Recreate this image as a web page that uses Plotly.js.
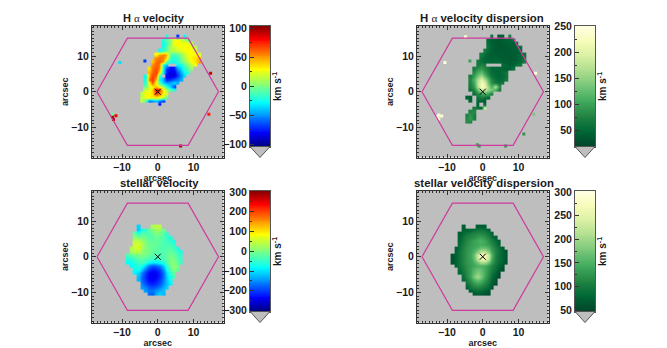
<!DOCTYPE html>
<html>
<head>
<meta charset="utf-8">
<script src="https://cdn.plot.ly/plotly-3.0.1.min.js"></script>
<style>html,body{margin:0;padding:0;background:#fff}</style>
</head>
<body>
<div id="chart" style="width:667px;height:348px"></div>
<script>
const W = 667;
const H = 348;
const n = null;

const hexX = [-17, -8.5, 8.5, 17, 8.5, -8.5, -17];
const hexY = [0, 15, 15, 0, -15, -15, 0];
const centerX = [0];
const centerY = [0];

const haX = [-5.5, -4.5, -3.5, -2.5, -1.5, -0.5, 0.5, 1.5, 2.5, 3.5, 4.5, 5.5, 6.5, 7.5, 8.5, 9.5, 10.5, 11.5, 12.5];
const haVelY = [15.5, 14.5, 13.5, 12.5, 11.5, 10.5, 9.5, 8.5, 7.5, 6.5, 5.5, 4.5, 3.5, 2.5, 1.5, 0.5, -0.5, -1.5, -2.5, -3.5];
const haDispY = [15.5, 14.5, 13.5, 12.5, 11.5, 10.5, 9.5, 8.5, 7.5, 6.5, 5.5, 4.5, 3.5, 2.5, 1.5, 0.5, -0.5, -1.5, -2.5, -3.5, -4.5, -5.5, -6.5, -7.5, -8.5];
const starX = [-8.5, -7.5, -6.5, -5.5, -4.5, -3.5, -2.5, -1.5, -0.5, 0.5, 1.5, 2.5, 3.5, 4.5, 5.5, 6.5];
const starY = [8.5, 7.5, 6.5, 5.5, 4.5, 3.5, 2.5, 1.5, 0.5, -0.5, -1.5, -2.5, -3.5, -4.5, -5.5, -6.5, -7.5, -8.5, -9.5, -10.5];

const haVel = [
  [n,n,n,n,n,n,n,n,-25,n,n,-70,n,-30,n,n,n,n,n],
  [n,n,n,n,n,n,n,-20,-10,5,25,30,20,10,-5,n,n,n,n],
  [n,n,n,n,n,n,n,-25,-15,5,30,32,25,30,25,10,n,n,n],
  [n,n,n,n,n,n,n,-25,-10,10,20,25,25,28,32,25,10,n,n],
  [n,n,n,n,n,n,-30,-15,-5,10,15,18,22,28,30,28,20,n,n],
  [n,n,n,n,n,30,50,55,48,-10,-15,-10,5,15,25,30,30,20,n],
  [n,n,n,n,n,52,58,55,35,-15,-20,-15,0,12,25,32,35,45,n],
  [n,n,n,n,40,60,62,50,-5,-25,-25,-20,-5,5,15,28,35,50,n],
  [n,n,n,n,52,62,58,-30,-40,n,n,-30,-25,-10,5,15,28,n,n],
  [n,n,n,35,58,66,52,-30,-70,-80,-75,-50,-35,-20,-5,5,n,n,n],
  [n,n,n,45,62,68,32,-35,-75,-85,-85,-65,-45,-30,-15,n,n,n,n],
  [n,n,-30,50,68,62,-25,n,-80,-88,-85,-70,-50,-35,n,n,n,n,n],
  [n,n,-25,62,72,40,-30,-45,-75,-70,-60,-55,-45,n,n,n,n,n,n],
  [n,n,-20,30,66,20,-10,-40,-50,-45,-35,-45,n,n,n,n,n,n,n],
  [n,n,-5,20,30,42,25,10,-20,-40,-70,n,n,n,n,n,n,n,n],
  [n,n,15,25,40,85,70,30,10,-10,-20,n,n,n,n,n,n,n,n],
  [n,10,30,32,35,70,55,30,20,n,n,n,n,n,n,n,n,n,n],
  [n,15,25,30,32,30,25,15,-10,n,n,n,n,n,n,n,n,n,n],
  [n,15,-5,-60,-50,-40,-55,-70,n,n,n,n,n,n,n,n,n,n,n],
  [n,n,n,n,n,n,-80,n,n,n,n,n,n,n,n,n,n,n,n],
];

const haDisp = [
  [n,n,n,n,n,n,n,n,60,n,40,45,n,70,n,n,n,n,n],
  [n,n,n,n,n,n,n,50,40,38,35,40,45,48,50,n,n,n,n],
  [n,n,n,n,n,n,n,55,42,38,35,38,42,45,42,55,n,n,n],
  [n,n,n,n,n,n,n,60,45,38,35,35,38,40,42,45,60,n,n],
  [n,n,n,n,n,n,70,50,42,38,38,38,38,40,42,45,50,n,n],
  [n,n,n,n,n,70,55,45,42,40,38,38,38,38,40,42,48,60,n],
  [n,n,n,n,n,60,50,45,42,45,42,40,38,38,38,42,48,60,n],
  [n,n,n,n,70,55,50,48,48,50,48,42,40,38,40,45,52,70,n],
  [n,n,n,n,65,75,70,n,n,n,n,55,45,42,45,55,65,n,n],
  [n,n,n,70,85,95,80,65,50,48,50,45,42,45,60,n,n,n,n],
  [n,n,n,85,110,125,100,70,55,50,48,55,65,n,n,n,n,n,n],
  [n,n,70,100,130,155,120,85,60,50,48,50,60,n,n,n,n,n,n],
  [n,n,80,120,160,205,170,115,80,60,50,55,70,n,n,n,n,n,n],
  [n,n,75,110,170,215,200,125,85,65,60,65,n,n,n,n,n,n,n],
  [n,n,70,100,160,225,215,150,110,170,80,n,n,n,n,n,n,n,n],
  [n,n,60,80,125,175,185,155,140,110,65,n,n,n,n,n,n,n,n],
  [n,n,n,55,80,100,110,100,70,n,n,n,n,n,n,n,n,n,n],
  [n,45,40,n,60,70,60,50,n,n,n,n,n,n,n,n,n,n,n],
  [n,n,50,n,50,45,40,n,n,n,n,n,n,n,n,n,n,n,n],
  [n,n,n,n,45,n,55,n,n,n,n,n,n,n,n,n,n,n,n],
  [n,n,n,70,60,50,200,n,n,n,n,n,n,n,n,n,n,n,n],
  [n,n,75,85,n,n,n,n,n,n,n,n,n,n,n,n,n,n,n],
  [n,75,90,70,n,n,n,n,n,n,n,n,n,n,n,n,n,n,n],
  [n,80,95,70,n,n,n,n,n,n,n,n,n,n,n,n,n,n,n],
  [n,85,75,n,n,n,n,n,n,n,n,n,n,n,n,n,n,n,n],
];

const starVel = [
  [n,n,n,-110,n,n,n,25,45,40,n,n,n,n,n,n],
  [n,n,n,-120,-70,-55,-20,5,25,15,-15,n,n,n,n,n],
  [n,n,-20,-55,-25,-30,-35,-20,0,-10,-30,-55,n,n,n,n],
  [n,n,10,0,-5,-10,-25,-25,-15,-20,-35,-50,-65,n,n,n],
  [n,n,40,45,20,-5,-15,-25,-15,-25,-35,-45,-55,-70,n,n],
  [n,n,55,60,35,5,-10,-15,-20,-25,-35,-35,-40,-55,n,n],
  [n,30,55,60,30,0,-10,-15,-20,-30,-35,-30,-30,-45,-70,n],
  [n,20,40,35,15,0,-10,-20,-25,-30,-30,-25,-20,-25,-50,-70],
  [-30,-20,-10,0,0,-5,-15,-30,-35,-35,-30,-20,-10,-15,-40,-60],
  [-60,-60,-40,-25,-20,-30,-40,-45,-50,-45,-35,-20,0,-5,-30,-50],
  [-80,-80,-60,-45,-40,-55,-85,-105,-95,-85,-60,-30,5,5,-20,-50],
  [n,-90,-70,-60,-70,-120,-165,-185,-180,-160,-110,-50,-10,15,-10,n],
  [n,n,-80,-75,-115,-175,-210,-225,-220,-200,-145,-75,-25,5,-20,n],
  [n,n,-90,-110,-160,-205,-235,-245,-240,-215,-165,-100,-45,-20,n,n],
  [n,n,n,-125,-175,-215,-240,-250,-240,-215,-170,-110,-60,-40,n,n],
  [n,n,n,-125,-175,-210,-235,-240,-230,-205,-160,-115,-70,n,n,n],
  [n,n,n,n,-160,-190,-215,-220,-210,-190,-150,-120,-90,n,n,n],
  [n,n,n,n,-140,-160,-180,-190,-180,-160,-130,-110,n,n,n,n],
  [n,n,n,n,n,-140,-170,-165,-150,-130,-120,n,n,n,n,n],
  [n,n,n,n,n,n,-170,-190,-130,-110,-130,n,n,n,n,n],
];

const starDisp = [
  [n,n,n,70,n,n,n,70,72,72,n,n,n,n,n,n],
  [n,n,n,70,75,75,85,95,95,90,75,n,n,n,n,n],
  [n,n,70,85,95,105,110,115,115,110,95,75,n,n,n,n],
  [n,n,75,95,110,115,120,130,135,125,110,90,72,n,n,n],
  [n,n,80,100,115,125,135,145,150,140,120,105,85,70,n,n],
  [n,n,85,105,118,130,135,140,145,140,130,115,95,78,n,n],
  [n,70,90,110,122,132,140,150,165,165,150,125,105,90,68,n],
  [n,72,95,113,125,135,150,185,215,215,180,135,108,92,75,62],
  [62,75,95,113,125,138,165,230,265,265,225,150,108,92,75,62],
  [62,75,95,113,125,138,160,225,260,260,220,145,105,90,75,62],
  [62,75,95,113,125,132,145,170,200,200,165,130,100,85,70,58],
  [n,72,92,108,120,132,140,150,150,145,128,110,92,78,62,n],
  [n,n,85,103,120,135,155,170,165,145,122,103,85,65,55,n],
  [n,n,78,98,118,135,160,180,170,145,118,95,72,58,n,n],
  [n,n,n,90,112,140,175,205,180,140,112,85,62,55,n,n],
  [n,n,n,80,105,125,150,170,155,130,105,78,58,n,n,n],
  [n,n,n,n,90,112,125,135,130,112,92,70,55,n,n,n],
  [n,n,n,n,75,95,105,110,105,95,78,60,n,n,n,n],
  [n,n,n,n,n,72,82,88,82,72,62,n,n,n,n,n],
  [n,n,n,n,n,n,62,65,62,58,55,n,n,n,n,n],
];

// isolated spaxels outside the main blobs
const velSpotX = [-12.7, -12.4, -12.8, -11.7, -10.6, -3.6, 14.8, 14.3, 6.4];
const velSpotY = [-7, -7.8, -6.3, -6.7, 8.2, 8.6, 5.2, -6.3, -15.2];
const velSpotV = [100, 95, -5, 85, -35, -70, 90, 75, 95];
const dispSpotX = [-12.7, -12.3, -12.3, -11.5, -10.6, -4.8, -3.6, 14.8, 14.3, 11.5, 6.4, -1.5, -1];
const dispSpotY = [-7, -6.5, -7.6, -6.8, 8.2, 15.4, 8.6, 5.2, -6.3, -11.8, -15.2, -14.8, -15.2];
const dispSpotV = [240, 250, 230, 240, 240, 235, 100, 240, 140, 90, 90, 100, 85];

const JET = [
  [0, '#00007f'], [0.11, '#0000ff'], [0.36, '#00ffff'], [0.5, '#7fff7f'],
  [0.64, '#ffff00'], [0.89, '#ff0000'], [1, '#7f0000'],
];
const GREENS = [
  [0, '#004529'], [0.125, '#006837'], [0.25, '#238443'], [0.375, '#41ab5d'],
  [0.5, '#78c679'], [0.625, '#addd8e'], [0.75, '#d9f0a3'], [0.875, '#f7fcb9'], [1, '#ffffe5'],
];

const FONT = 'Liberation Sans, Arial, sans-serif';
const INK = '#1a1a1a';
const AXIS_COLOR = '#333333';

const panels = [
  {
    title: 'H <span style="font-weight:normal;font-family:Liberation Serif">α</span> velocity',
    titleX: 154, titleSize: 11,
    x: haX, y: haVelY, z: haVel, spotX: velSpotX, spotY: velSpotY, spotV: velSpotV,
    scale: JET, range: [-104, 104], ticks: [-100, -50, 0, 50, 100], minor: 25,
    left: 92, top: 26, cbarLeft: 250,
  },
  {
    title: 'H <span style="font-weight:normal;font-family:Liberation Serif">α</span> velocity dispersion',
    titleX: 482, titleSize: 11.4,
    x: haX, y: haDispY, z: haDisp, spotX: dispSpotX, spotY: dispSpotY, spotV: dispSpotV,
    scale: GREENS, range: [20, 250], ticks: [50, 100, 150, 200, 250], minor: 25,
    left: 417, top: 26, cbarLeft: 575,
  },
  {
    title: 'stellar velocity',
    titleX: 159, titleSize: 11.3,
    x: starX, y: starY, z: starVel,
    scale: JET, range: [-305, 305], ticks: [-300, -200, -100, 0, 100, 200, 300], minor: 50,
    left: 92, top: 191, cbarLeft: 250,
  },
  {
    title: 'stellar velocity dispersion',
    titleX: 484, titleSize: 11.4,
    x: starX, y: starY, z: starDisp,
    scale: GREENS, range: [47, 302], ticks: [50, 100, 150, 200, 250, 300], minor: 25,
    left: 417, top: 191, cbarLeft: 575,
  },
];

const fx = (px) => px / W;
const fy = (py) => 1 - py / H;

function colorbarLevels(range) {
  const levels = [];
  for (let i = 0; i <= 128; i++) {
    levels.push(range[0] + (range[1] - range[0]) * i / 128);
  }
  return levels;
}

const traces = [];
const layout = {
  width: W,
  height: H,
  margin: { l: 0, r: 0, t: 0, b: 0 },
  paper_bgcolor: '#ffffff',
  plot_bgcolor: '#bebebe',
  showlegend: false,
  font: { family: FONT, size: 10.5, color: INK, weight: 700 },
  annotations: [],
  shapes: [],
};

panels.forEach((p, i) => {
  const xa = `x${i + 1}`;
  const ya = `y${i + 1}`;
  const xb = `x${i + 5}`;
  const yb = `y${i + 5}`;
  const plotSize = 131.5;
  const cbarBottom = p.top + 120.5;

  traces.push({
    type: 'heatmap',
    x: p.x,
    y: p.y,
    z: p.z,
    xaxis: xa,
    yaxis: ya,
    colorscale: p.scale,
    zmin: p.range[0],
    zmax: p.range[1],
    zsmooth: 'best',
    showscale: false,
    hoverongaps: false,
  });
  if (p.spotX) {
    traces.push({
      type: 'scatter',
      mode: 'markers',
      x: p.spotX,
      y: p.spotY,
      xaxis: xa,
      yaxis: ya,
      marker: {
        symbol: 'square',
        size: 3,
        color: p.spotV,
        colorscale: p.scale,
        cmin: p.range[0],
        cmax: p.range[1],
      },
    });
  }
  traces.push({
    type: 'scatter',
    mode: 'lines',
    x: hexX,
    y: hexY,
    xaxis: xa,
    yaxis: ya,
    line: { color: '#cf3a9e', width: 1.2 },
  });
  traces.push({
    type: 'scatter',
    mode: 'markers',
    x: centerX,
    y: centerY,
    xaxis: xa,
    yaxis: ya,
    marker: { symbol: 'x-thin', size: 6, line: { color: '#000000', width: 1 } },
  });

  const levels = colorbarLevels(p.range);
  traces.push({
    type: 'heatmap',
    x: [0],
    y: levels,
    z: levels.map((v) => [v]),
    xaxis: xb,
    yaxis: yb,
    colorscale: p.scale,
    zmin: p.range[0],
    zmax: p.range[1],
    showscale: false,
  });

  const axisBase = {
    range: [-18.4, 18.4],
    dtick: 10,
    ticks: 'inside',
    ticklen: 4,
    tickwidth: 1,
    tickcolor: AXIS_COLOR,
    minor: { dtick: 1, ticks: 'inside', ticklen: 2, tickwidth: 1, tickcolor: AXIS_COLOR },
    showgrid: false,
    zeroline: false,
    showline: true,
    mirror: 'allticks',
    linecolor: AXIS_COLOR,
    linewidth: 1,
    tickfont: { family: FONT, size: 10.5, weight: 700, color: INK },
  };
  layout[`xaxis${i + 1}`] = {
    ...axisBase,
    anchor: ya,
    domain: [fx(p.left), fx(p.left + plotSize)],
    title: { text: 'arcsec', standoff: 0, font: { family: FONT, size: 9, weight: 700, color: INK } },
  };
  layout[`yaxis${i + 1}`] = {
    ...axisBase,
    anchor: xa,
    domain: [fy(p.top + plotSize), fy(p.top)],
    title: { text: 'arcsec', standoff: 0, font: { family: FONT, size: 9, weight: 700, color: INK } },
  };
  layout[`xaxis${i + 5}`] = {
    anchor: yb,
    domain: [fx(p.cbarLeft), fx(p.cbarLeft + 20)],
    range: [-0.5, 0.5],
    showticklabels: false,
    ticks: '',
    showgrid: false,
    zeroline: false,
    showline: true,
    mirror: true,
    linecolor: '#555555',
  };
  layout[`yaxis${i + 5}`] = {
    anchor: xb,
    domain: [fy(cbarBottom), fy(p.top)],
    range: p.range,
    tickvals: p.ticks,
    ticks: 'inside',
    ticklen: 4,
    tickcolor: AXIS_COLOR,
    minor: { dtick: p.minor, ticks: 'inside', ticklen: 2, tickcolor: AXIS_COLOR },
    showgrid: false,
    zeroline: false,
    showline: true,
    mirror: true,
    linecolor: '#555555',
    tickfont: { family: FONT, size: 10.5, weight: 700, color: INK },
  };

  // out-of-range swatch under the bar
  layout.shapes.push({
    type: 'path',
    xref: 'paper',
    yref: 'paper',
    path: `M ${fx(p.cbarLeft)} ${fy(cbarBottom)} L ${fx(p.cbarLeft + 20)} ${fy(cbarBottom)} L ${fx(p.cbarLeft + 10)} ${fy(cbarBottom + 11)} Z`,
    fillcolor: '#bebebe',
    line: { color: '#555555', width: 1 },
  });

  layout.annotations.push({
    xref: 'paper',
    yref: 'paper',
    xanchor: 'center',
    yanchor: 'middle',
    x: fx(p.titleX),
    y: fy(p.top - 8),
    text: p.title,
    showarrow: false,
    font: { family: FONT, size: p.titleSize, weight: 700, color: INK },
  });
  layout.annotations.push({
    xref: 'paper',
    yref: 'paper',
    xanchor: 'center',
    yanchor: 'middle',
    x: fx(p.cbarLeft + 27),
    y: fy(p.top + 61),
    text: 'km s<sup>-1</sup>',
    textangle: -90,
    showarrow: false,
    font: { family: FONT, size: 10, weight: 700, color: INK },
  });
});

Plotly.newPlot('chart', traces, layout, { displayModeBar: false });
</script>
</body>
</html>
